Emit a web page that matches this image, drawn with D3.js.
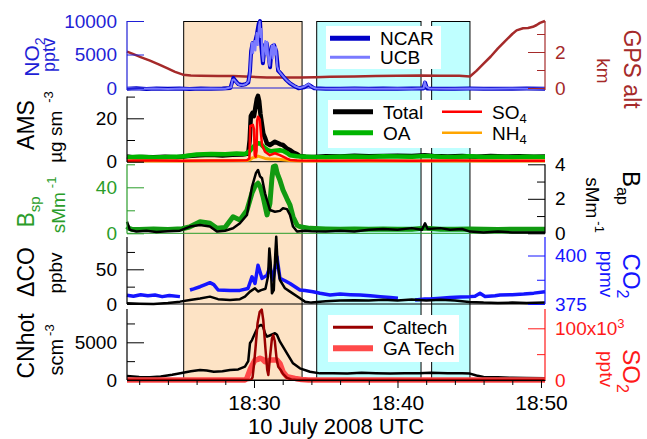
<!DOCTYPE html>
<html>
<head>
<meta charset="utf-8">
<script src="https://cdnjs.cloudflare.com/ajax/libs/d3/7.8.5/d3.min.js"></script>
<style>
body { margin: 0; background: #fff; }
svg { display: block; }
svg text { font-family: "Liberation Sans", Arial, sans-serif; }
</style>
</head>
<body>
<div id="graph"></div>
<script>
// time = minutes after 18:00 UTC, 10 July 2008
var timeDomain = [21.15, 50.28];
var timeMajor = [30, 40, 50];
var timeLabels = ["18:30", "18:40", "18:50"];
var timeMinor = [22, 24, 26, 28, 32, 34, 36, 38, 42, 44, 46, 48];

// shaded sampling periods
var shadeTan = [[25.1, 33.35]];
var shadeCyan = [[34.37, 41.64], [42.38, 45.05]];

// NO2 (pptv)
var no2NCAR = [[21.15,-100],[21.8,-50],[22.5,-150],[23.2,-80],[24.0,-120],[24.8,-60],[25.5,-140],[26.3,-90],[27.0,-110],[27.8,-70],[28.35,0],[28.48,900],[28.56,1500],[28.7,1100],[28.9,600],[29.15,450],[29.4,550],[29.6,800],[29.72,2500],[29.8,5500],[29.9,6700],[30.05,6600],[30.2,8000],[30.33,9600],[30.42,10000],[30.5,6500],[30.62,3700],[30.75,6400],[30.88,6700],[31.0,5200],[31.12,3100],[31.25,6200],[31.4,6400],[31.55,5500],[31.68,2600],[31.9,2100],[32.2,1300],[32.5,700],[32.8,300],[33.1,-50],[33.5,100],[33.8,500],[33.95,300],[34.2,-50],[35,-100],[36,-120],[37,-80],[38,-130],[39,-90],[40,-100],[41,-80],[41.8,-60],[41.92,800],[42.05,-60],[43,-120],[44,-100],[45,-90],[46,-110],[47,-100],[48,-120],[49,-90],[50.28,-110]];
var no2UCB = [[21.15,-50],[22,-120],[23,-60],[24,-140],[25,-80],[26,-120],[27,-60],[28,-100],[28.4,100],[28.5,1200],[28.6,1300],[28.75,900],[28.95,500],[29.2,400],[29.45,600],[29.62,1000],[29.7,2000],[29.78,4800],[29.86,6800],[29.94,5200],[30.02,7000],[30.1,5600],[30.18,8200],[30.26,6400],[30.34,9200],[30.4,9900],[30.46,7600],[30.52,8800],[30.58,5000],[30.64,4000],[30.7,6000],[30.78,7000],[30.84,5000],[30.92,6900],[31.0,4200],[31.08,3300],[31.16,5400],[31.24,6300],[31.3,4400],[31.38,6600],[31.46,5000],[31.54,6100],[31.62,3200],[31.72,2600],[31.85,2200],[32.05,1700],[32.3,1100],[32.6,600],[32.9,200],[33.2,0],[33.5,200],[33.8,600],[34.0,200],[34.3,-80],[35.5,-120],[37,-60],[38.5,-130],[40,-70],[41,-110],[41.82,-40],[41.9,900],[42.0,200],[42.2,-60],[43.5,-120],[45,-70],[46.5,-130],[48,-80],[49.5,-110],[50.28,-90]];

// GPS altitude (km)
var gpsAlt = [[21.15,2.02],[21.6,1.88],[22.1,1.72],[22.75,1.52],[23.4,1.3],[23.94,1.1],[24.5,0.9],[25.05,0.74],[25.6,0.69],[26.24,0.68],[27.5,0.67],[28.54,0.66],[29.8,0.62],[30.9,0.58],[32.0,0.59],[33.2,0.58],[34.3,0.6],[35.3,0.63],[37.0,0.64],[38.5,0.66],[40.0,0.68],[41.57,0.7],[43.0,0.68],[44.3,0.68],[45.05,0.64],[45.5,0.95],[46.0,1.35],[46.5,1.75],[47.0,2.2],[47.5,2.6],[48.0,3.0],[48.3,3.2],[48.75,3.32],[49.1,3.33],[49.44,3.4],[49.7,3.5],[49.93,3.62],[50.28,3.72]];

// AMS (ug sm-3)
var amsTotal = [[21.15,2.4],[21.6,2.0],[22.2,2.2],[23,2.0],[23.8,2.3],[24.6,2.1],[25.4,2.6],[26.2,3.0],[27,3.2],[27.8,2.9],[28.5,3.2],[29.2,3.3],[29.6,3.8],[29.7,10],[29.78,21],[29.9,22.5],[30.0,21],[30.1,25],[30.2,29],[30.28,30.3],[30.36,28],[30.45,22],[30.56,17],[30.65,13],[30.77,11],[30.9,8.5],[31.11,7.7],[31.3,8.5],[31.46,9.2],[31.65,8.6],[31.85,8.0],[32.02,7.7],[32.3,6.0],[32.51,5.4],[32.75,4.2],[33.0,3.5],[33.2,2.6],[33.6,2.3],[34.2,2.2],[35,2.5],[36,2.4],[37,2.7],[38,2.5],[39,2.6],[40,2.8],[41,2.6],[41.9,3.0],[42.5,2.6],[43.5,2.4],[44.5,2.6],[45.5,2.3],[46.5,2.6],[47.5,2.4],[48.5,2.5],[49.5,2.3],[50.28,2.4]];
var amsOA = [[21.15,2.0],[22,2.3],[23,1.9],[24,2.2],[25,2.4],[26,3.3],[27,3.6],[28,3.4],[28.8,3.8],[29.4,3.6],[29.72,5.0],[29.9,6.5],[30.1,7.8],[30.28,8.5],[30.45,8.4],[30.56,7.5],[30.77,6.2],[31.0,5.2],[31.2,4.8],[31.46,5.0],[31.8,5.3],[32.02,5.0],[32.3,4.0],[32.51,3.0],[33.0,2.5],[34,2.2],[35,2.0],[36,2.3],[37,2.4],[38,2.2],[39,2.5],[40,2.4],[41,2.3],[42,2.6],[43,2.3],[44,2.2],[45,2.5],[46,2.2],[47,2.3],[48,2.1],[49,2.3],[50.28,2.2]];
var amsSO4 = [[21.15,0.4],[23,0.5],[25,0.4],[27,0.6],[28.5,0.5],[29.5,0.7],[29.68,1.5],[29.74,16.5],[29.92,17],[30.0,15],[30.05,3],[30.12,2.3],[30.18,5],[30.22,19],[30.28,20.7],[30.4,19.5],[30.5,12],[30.56,7.7],[30.77,4.6],[31.11,3.0],[31.46,3.9],[31.8,3.0],[32.02,2.3],[32.3,1.4],[32.51,0.8],[33.0,0.5],[35,0.4],[38,0.5],[41,0.4],[44,0.5],[47,0.4],[50.28,0.4]];
var amsNH4 = [[21.15,0.3],[25,0.3],[28,0.4],[29.5,0.5],[29.72,0.9],[29.9,1.8],[30.1,2.0],[30.28,2.6],[30.45,2.2],[30.77,1.5],[31.11,1.2],[31.46,1.3],[32.02,0.9],[32.5,0.5],[33.2,0.3],[50.28,0.3]];

// scattering and absorption (Mm-1)
var bsp = [[21.15,6],[21.3,4.2],[21.5,3.4],[22,3.2],[23,3.8],[24,3.4],[25,4],[25.5,5.5],[26.24,10],[26.6,9.5],[26.93,8.7],[27.42,4.3],[27.98,5],[28.54,14.4],[29.02,11.6],[29.51,20],[29.86,35],[30.07,41],[30.28,43.5],[30.45,40],[30.63,32],[30.91,16],[31.11,26],[31.25,48],[31.35,58],[31.5,58.5],[31.62,52],[31.81,46],[32.02,37.7],[32.3,30],[32.51,24.6],[32.72,14.4],[33.0,7.2],[33.2,5.8],[33.9,4.3],[35,3.8],[36,3.5],[37,3.8],[38,3.5],[39,3.8],[40,3.6],[41,3.5],[41.92,4.5],[43,3.5],[44,3.6],[45,3.8],[46,3.5],[47,3.4],[48,3.6],[49,3.5],[50.28,3.5]];
var bap = [[21.15,0.67],[21.35,0.2],[21.8,0.1],[22.5,0.15],[23.2,0.08],[24,0.12],[24.84,0.15],[25.54,0.39],[26.24,0.48],[26.93,0.4],[27.42,0.1],[27.98,0.15],[28.54,0.29],[29.02,0.58],[29.51,1.06],[29.86,2.7],[30.14,3.5],[30.28,3.67],[30.42,3.3],[30.56,3.19],[30.77,2.32],[31.11,1.35],[31.46,1.25],[31.81,1.3],[32.02,1.45],[32.3,1.4],[32.51,1.06],[32.72,0.39],[33.0,0.1],[33.5,0.15],[34,0.12],[35,0.1],[36,0.15],[37,0.1],[38,0.2],[39,0.25],[40,0.2],[41,0.3],[41.7,0.2],[41.92,0.58],[42.1,0.25],[43,0.3],[43.66,0.2],[44.5,0.25],[45.05,0.1],[46,0.05],[47,0.1],[48,0.05],[49,0.05],[50.28,0.05]];

// CO2 (ppmv), null = no data
var co2 = [[21.15,379.5],[21.6,379],[22.1,379.8],[22.6,379.2],[23.1,379.6],[23.6,378.8],[24.1,379.4],[24.84,378.8],[25.2,null],[25.54,382.2],[25.8,382.8],[26.24,383.9],[26.6,385],[26.93,386],[27.2,385],[27.5,382.2],[28.33,381.9],[29.02,382],[29.58,383],[29.86,389],[30.07,385.6],[30.28,395],[30.56,388.2],[30.91,389.9],[31.11,394.2],[31.32,387.4],[31.6,399.4],[31.81,388.2],[32.16,387],[32.51,385.6],[33.2,382.2],[33.55,382],[34.11,381.3],[34.6,380.5],[35.3,379.6],[36,380.1],[36.7,379.8],[37.4,379.6],[38.1,379.2],[38.8,378.8],[39.5,378.4],[40.03,378],[40.6,null],[41.22,377.1],[41.9,377.6],[42.26,377.6],[43,378],[43.66,378.4],[44.4,378.6],[45.05,378.8],[45.4,379],[45.75,380.5],[46.1,378.9],[46.8,379.2],[47.14,379.6],[48,379.8],[48.8,380.1],[49.5,380.6],[50.28,381.3]];
// delta CO (ppbv)
var dCO = [[21.15,1],[22,0.5],[23,0],[24,1.5],[24.84,3.4],[25.54,5.8],[26.24,8],[26.93,10.6],[27.5,7],[28.33,5.8],[29.02,7],[29.37,10.6],[29.72,17.8],[30.07,22.6],[30.28,18],[30.5,20],[30.8,22],[30.98,40],[31.07,80],[31.16,60],[31.25,15.4],[31.38,20],[31.48,70],[31.55,97],[31.64,60],[31.81,34.6],[32.16,22.6],[32.51,17.8],[33.2,8.2],[33.55,3.4],[34,2],[35,4],[36,5],[37,5.5],[38,5],[39,6],[40,5],[41,6.5],[42,5],[43,6],[44,5],[45,3],[46,2],[47,1.5],[48,2],[49,1.5],[50.28,2]];

// CN hot (scm-3) and SO2 (pptv)
var cnHot = [[21.15,530],[22,400],[22.75,350],[23.5,450],[24.3,700],[25.05,970],[25.6,1150],[26.24,1330],[26.7,1250],[27.2,1100],[27.8,1150],[28.33,1330],[28.9,1400],[29.37,1770],[29.6,2500],[29.72,4870],[29.86,5300],[30.07,6200],[30.28,7070],[30.5,7300],[30.63,7070],[30.77,6200],[30.91,5740],[31.1,5900],[31.46,6200],[31.6,6000],[31.81,5080],[32.3,3540],[32.72,2210],[33.2,1550],[33.9,1100],[34.6,880],[35.5,900],[36.5,850],[37.5,950],[38.5,900],[39.5,850],[40.5,900],[41.5,880],[42.3,950],[43.5,900],[44.5,880],[45.05,850],[45.5,600],[46,400],[47,350],[48,300],[49,250],[50.28,220]];
var so2Caltech = [[21.15,0],[29.6,0],[29.8,500],[29.9,5000],[30.0,30000],[30.1,60000],[30.25,110000],[30.4,132000],[30.54,136000],[30.65,115000],[30.8,60000],[30.92,20000],[31.0,9700],[31.1,40000],[31.25,80000],[31.34,87000],[31.45,75000],[31.58,40000],[31.69,25800],[31.85,20000],[32.02,12000],[32.3,4000],[32.6,1000],[33,0],[50.28,0]];
var so2GATech = [[21.15,0],[29.37,0],[29.5,3000],[29.72,19300],[29.9,30000],[30.07,38700],[30.28,40000],[30.42,42000],[30.6,40000],[30.77,35400],[30.95,36000],[31.11,38700],[31.3,38700],[31.6,38700],[31.81,32000],[32.02,16000],[32.3,6400],[32.86,3200],[33.3,1000],[33.8,0],[50.28,0]];

var width = 647, height = 439;
var left = 127, right = 545;
var font = '"Liberation Sans", Arial, sans-serif';

var cNO2 = "#1f1fd6", cNCAR = "#0000c8", cUCB = "#7a7aff", cGPS = "#a52a2a";
var cOA = "#00b400", cSO4 = "#ff0000", cNH4 = "#ffa500";
var cBsp = "#2a9d2a", cBspLine = "#119a11";
var cCO2 = "#1515ff", cSO2 = "#ff1a1a", cCaltech = "#990000", cGA = "#ff4a4a";

var x = d3.scaleLinear().domain(timeDomain).range([left, right]);

// one scale per series, stacked panels
var yNO2 = d3.scaleLinear().domain([0, 10000]).range([88, 21]);
var yGPS = d3.scaleLinear().domain([0, 2]).range([88, 52]);
var yAMS = d3.scaleLinear().domain([0, 30]).range([161.7, 96.6]);
var yBsp = d3.scaleLinear().domain([0, 60]).range([233.3, 164.3]);
var yBap = d3.scaleLinear().domain([0, 4]).range([233.3, 164.3]);
var yCO = d3.scaleLinear().domain([0, 50]).range([304, 269.3]);
var yCO2 = d3.scaleLinear().domain([375, 400]).range([304, 255.5]);
var yCN = d3.scaleLinear().domain([0, 5000]).range([380, 342.3]);
var ySO2 = d3.scaleLinear().domain([0, 100000]).range([380, 328.3]);

var svg = d3.select('#graph')
    .append("svg")
    .attr("width", width)
    .attr("height", height)
    .attr("font-family", font);

// shaded periods
svg.selectAll(".tan")
    .data(shadeTan)
    .enter()
    .append("rect")
    .attr("x", d => x(d[0]))
    .attr("y", 21.5)
    .attr("width", d => x(d[1]) - x(d[0]))
    .attr("height", 380 - 21.5)
    .style("fill", "#fde3c5")
    .style("stroke", "#000")
    .style("stroke-width", 1);

svg.selectAll(".cyan")
    .data(shadeCyan)
    .enter()
    .append("rect")
    .attr("x", d => x(d[0]))
    .attr("y", 21.5)
    .attr("width", d => x(d[1]) - x(d[0]))
    .attr("height", 380 - 21.5)
    .style("fill", "#bfffff")
    .style("stroke", "#000")
    .style("stroke-width", 1);

// panel bottom lines
[[88, cNO2], [161.7, "#000"], [233.3, cBsp], [304, "#000"]].forEach(function(b) {
  svg.append("line")
      .attr("x1", left).attr("x2", right)
      .attr("y1", b[0]).attr("y2", b[0])
      .style("stroke", b[1])
      .style("stroke-width", 1);
});

function drawLine(data, y, color, w) {
  var line = d3.line()
      .defined(d => d[1] !== null)
      .x(d => x(d[0]))
      .y(d => y(d[1]));
  svg.append("path")
      .datum(data)
      .attr("d", line)
      .style("fill", "none")
      .style("stroke", color)
      .style("stroke-width", w)
      .style("stroke-linejoin", "round");
}

// panel 1
drawLine(gpsAlt, yGPS, cGPS, 2.5);
drawLine(no2NCAR, yNO2, cNCAR, 4);
drawLine(no2UCB, yNO2, cUCB, 2);
// panel 2
drawLine(amsTotal, yAMS, "#000", 4.5);
drawLine(amsOA, yAMS, cOA, 4.5);
drawLine(amsNH4, yAMS, cNH4, 3);
drawLine(amsSO4, yAMS, cSO4, 2.5);
// panel 3
drawLine(bsp, yBsp, cBspLine, 5);
drawLine(bap, yBap, "#000", 2.5);
// panel 4
drawLine(co2, yCO2, cCO2, 3.5);
drawLine(dCO, yCO, "#000", 2.5);
// panel 5
drawLine(cnHot, yCN, "#000", 2.5);
drawLine(so2GATech, ySO2, cGA, 5.5);
drawLine(so2Caltech, ySO2, cCaltech, 2.5);

// axes
function vAxis(side, scale, major, minor, color, top, bottom, fmt) {
  var xpos = side === "left" ? left : right;
  var mk = side === "left" ? d3.axisLeft : d3.axisRight;
  var g = svg.append("g")
      .attr("transform", "translate(" + xpos + ",0)")
      .attr("color", color)
      .call(mk(scale).tickValues(major).tickSizeInner(-17).tickSizeOuter(0).tickPadding(10).tickFormat(fmt))
      .attr("font-family", font)
      .attr("font-size", 19);
  g.select(".domain").remove();
  svg.append("g")
      .attr("transform", "translate(" + xpos + ",0)")
      .attr("color", color)
      .call(mk(scale).tickValues(minor).tickSizeInner(-8).tickSizeOuter(0).tickFormat(""))
      .select(".domain").remove();
  svg.append("line")
      .attr("x1", xpos).attr("x2", xpos)
      .attr("y1", top).attr("y2", bottom)
      .style("stroke", color)
      .style("stroke-width", 1.2);
  return g;
}

var plain = d => d;
vAxis("left", yNO2, [0, 5000, 10000], [], cNO2, 21, 90, plain);
vAxis("left", yAMS, [0, 20], [10, 30], "#000", 96.6, 162, plain);
vAxis("left", yBsp, [0, 40], [20, 60], cBsp, 164.3, 233.5, plain);
vAxis("left", yCO, [0, 50], [25, 75], "#000", 237, 304, plain);
vAxis("left", yCN, [0, 5000], [2500, 7500], "#000", 309, 380, plain);

vAxis("right", yGPS, [0, 2], [1, 3], cGPS, 21, 90, plain);
vAxis("right", yBap, [0, 2, 4], [1, 3], "#000", 164.3, 233.5, plain);
vAxis("right", yCO2, [375, 400], [387.5], cCO2, 237, 304, plain);
var so2Axis = vAxis("right", ySO2, [0, 100000], [50000], cSO2, 309, 380, d => d === 0 ? "0" : "");
so2Axis.selectAll(".tick text")
    .filter(d => d === 100000)
    .text("100x10")
    .append("tspan")
    .attr("dy", "-0.55em")
    .attr("font-size", 13)
    .text("3");

// time axis
var xg = svg.append("g")
    .attr("transform", "translate(0,380)")
    .call(d3.axisBottom(x).tickValues(timeMajor).tickSizeInner(8).tickSizeOuter(0).tickPadding(7)
      .tickFormat((d, i) => timeLabels[i]))
    .attr("font-family", font)
    .attr("font-size", 21);
xg.select(".domain").style("stroke-width", 1.2);
svg.append("g")
    .attr("transform", "translate(0,380)")
    .call(d3.axisBottom(x).tickValues(timeMinor).tickSizeInner(5).tickSizeOuter(0).tickFormat(""))
    .select(".domain").remove();

svg.append("text")
    .attr("x", 336)
    .attr("y", 434)
    .attr("text-anchor", "middle")
    .attr("font-size", 22)
    .text("10 July 2008 UTC");

// axis titles: parts = [text, font size, dy, dx]
function title(px, py, angle, color, parts) {
  var t = svg.append("text")
      .attr("transform", "translate(" + px + "," + py + ") rotate(" + angle + ")")
      .attr("text-anchor", "middle")
      .style("fill", color);
  parts.forEach(function(p) {
    t.append("tspan")
        .attr("font-size", p[1])
        .attr("dy", p[2] || 0)
        .attr("dx", p[3] || 0)
        .text(p[0]);
  });
}

title(38.5, 57, -90, cNO2, [["NO", 21], ["2", 14, 6]]);
title(55, 55, -90, cNO2, [["pptv", 18]]);
title(33.5, 125, -90, "#000", [["AMS", 23]]);
title(62, 127, -90, "#000", [["\u00b5g sm", 19], ["-3", 13, -9, 8]]);
title(33.5, 212, -90, cBsp, [["B", 23], ["sp", 15, 6]]);
title(65, 205, -90, cBsp, [["sMm", 19], ["-1", 13, -9, 4]]);
title(33.5, 272, -90, "#000", [["\u0394CO", 23]]);
title(62, 273, -90, "#000", [["ppbv", 19]]);
title(33.5, 346, -90, "#000", [["CNhot", 23]]);
title(63, 350, -90, "#000", [["scm", 20], ["-3", 13, -9, 3]]);

title(624, 69, 90, cGPS, [["GPS alt", 23]]);
title(597, 71, 90, cGPS, [["km", 19]]);
title(623, 188, 90, "#000", [["B", 24], ["ap", 16, 6]]);
title(586, 205, 90, "#000", [["sMm", 19], ["-1", 13, -9, 3]]);
title(623, 276, 90, cCO2, [["CO", 24], ["2", 16, 6]]);
title(600, 274, 90, cCO2, [["ppmv", 19]]);
title(623, 371, 90, cSO2, [["SO", 24], ["2", 16, 6]]);
title(600, 369, 90, cSO2, [["pptv", 19]]);

// legends
var legendNO2 = [["NCAR", cNCAR, 5], ["UCB", cUCB, 3]];
var legendAMS = [["Total", "#000", 5, ""], ["OA", cOA, 5, ""], ["SO", cSO4, 2.5, "4"], ["NH", cNH4, 2.5, "4"]];
var legendSO2 = [["Caltech", cCaltech, 3], ["GA Tech", cGA, 6]];

function legendBox(bx, by, bw, bh) {
  svg.append("rect")
      .attr("x", bx).attr("y", by)
      .attr("width", bw).attr("height", bh)
      .style("fill", "#fff");
}
function legendItem(lx, ly, item) {
  svg.append("line")
      .attr("x1", lx).attr("x2", lx + 40)
      .attr("y1", ly).attr("y2", ly)
      .style("stroke", item[1])
      .style("stroke-width", item[2]);
  var t = svg.append("text")
      .attr("x", lx + 50)
      .attr("y", ly + 7)
      .attr("font-size", 19)
      .text(item[0]);
  if (item[3]) {
    t.append("tspan").attr("font-size", 13).attr("dy", 4).text(item[3]);
  }
}

legendBox(326, 26, 115, 43);
legendItem(330, 38.3, legendNO2[0]);
legendItem(330, 57.3, legendNO2[1]);

legendBox(328, 100, 205, 48);
legendItem(333, 111.7, legendAMS[0]);
legendItem(333, 132.7, legendAMS[1]);
legendItem(442, 111.7, legendAMS[2]);
legendItem(442, 132.7, legendAMS[3]);

legendBox(328, 315, 131, 47);
legendItem(333, 327.3, legendSO2[0]);
legendItem(333, 348.3, legendSO2[1]);
</script>
</body>
</html>
